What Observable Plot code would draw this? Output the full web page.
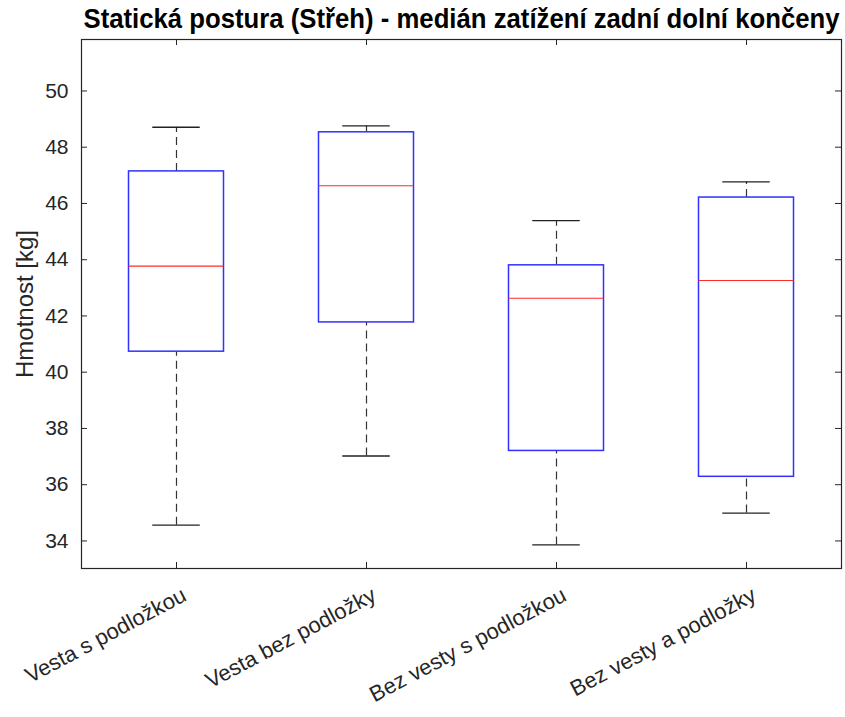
<!DOCTYPE html>
<html>
<head>
<meta charset="utf-8">
<script src="https://cdn.jsdelivr.net/npm/d3@7"></script>
<script src="https://cdn.jsdelivr.net/npm/@observablehq/plot@0.6"></script>
<style>
  html, body { margin: 0; padding: 0; background: #fff; }
  #chart svg { display: block; }
</style>
</head>
<body>
<div id="chart"></div>
<script>
const titleText = "Statická postura (Střeh) - medián zatížení zadní dolní končeny";
const yLabel = "Hmotnost [kg]";
const categories = ["Vesta s podložkou", "Vesta bez podložky", "Bez vesty s podložkou", "Bez vesty a podložky"];
const whiskerLow  = [34.56, 37.02, 33.86, 34.99];
const q1          = [40.73, 41.77, 37.20, 36.28];
const medians     = [43.77, 46.63, 42.63, 43.26];
const q3          = [47.14, 48.53, 43.80, 46.21];
const whiskerHigh = [48.71, 48.76, 45.39, 46.77];
const yTicks = [34, 36, 38, 40, 42, 44, 46, 48, 50];

const boxes = categories.map((c, i) => ({
  name: c, pos: i + 1,
  lo: whiskerLow[i], q1: q1[i], med: medians[i], q3: q3[i], hi: whiskerHigh[i]
}));

const W = 845, H = 717;
const mL = 81, mR = 4, mT = 39, mB = 149;
const plotW = W - mL - mR, plotH = H - mT - mB;
const font = "'Liberation Sans', Arial, Helvetica, sans-serif";
const axisColor = "#262626";

const chart = Plot.plot({
  width: W, height: H,
  marginLeft: mL, marginRight: mR, marginTop: mT, marginBottom: mB,
  style: { fontFamily: font, background: "#fff", color: axisColor },
  x: { type: "linear", domain: [0.5, 4.5], axis: null },
  y: { domain: [33.02, 51.83], axis: null },
  marks: [
    // whiskers (dashed)
    Plot.ruleX(boxes, { x: "pos", y1: "q3", y2: "hi", stroke: "#333", strokeWidth: 1.2, strokeDasharray: "8,5" }),
    Plot.ruleX(boxes, { x: "pos", y1: "lo", y2: "q1", stroke: "#333", strokeWidth: 1.2, strokeDasharray: "8,5" }),
    // caps
    Plot.ruleY(boxes, { y: "hi", x1: d => d.pos - 0.125, x2: d => d.pos + 0.125, stroke: "#222", strokeWidth: 1.3 }),
    Plot.ruleY(boxes, { y: "lo", x1: d => d.pos - 0.125, x2: d => d.pos + 0.125, stroke: "#222", strokeWidth: 1.3 }),
    // boxes
    Plot.rect(boxes, { x1: d => d.pos - 0.25, x2: d => d.pos + 0.25, y1: "q1", y2: "q3", fill: "none", stroke: "#3030ff", strokeWidth: 1.5 }),
    // medians
    Plot.ruleY(boxes, { y: "med", x1: d => d.pos - 0.25, x2: d => d.pos + 0.25, stroke: "#ff2a2a", strokeWidth: 1.2 }),
    // frame
    Plot.frame({ stroke: axisColor, strokeWidth: 1.2 }),
    // inward ticks: left and right
    Plot.tickY(yTicks, { y: d => d, insetRight: plotW - 6, stroke: axisColor }),
    Plot.tickY(yTicks, { y: d => d, insetLeft: plotW - 6, stroke: axisColor }),
    // inward ticks: bottom and top
    Plot.tickX(boxes, { x: "pos", insetTop: plotH - 6, stroke: axisColor }),
    Plot.tickX(boxes, { x: "pos", insetBottom: plotH - 6, stroke: axisColor }),
    // y tick labels
    Plot.axisY(yTicks, { anchor: "left", tickSize: 0, tickPadding: 13, fontSize: 21, fill: axisColor, label: null }),
    // y label
    Plot.text([yLabel], { frameAnchor: "left", dx: -56, rotate: -90, fontSize: 24, fill: axisColor, textAnchor: "middle" }),
    // x labels
    Plot.text(boxes, { x: "pos", text: "name", frameAnchor: "bottom", dx: 8, dy: 25, rotate: -28, textAnchor: "end", lineAnchor: "middle", fontSize: 22, fill: axisColor }),
    // title
    Plot.text([titleText], { frameAnchor: "top", dy: -20, fontSize: 27, fontWeight: "bold", fill: "#000", textAnchor: "middle", lineAnchor: "middle", className: "ttl" })
  ]
});

document.getElementById("chart").appendChild(chart);
d3.select(chart).selectAll("g.ttl text")
  .attr("textLength", 756)
  .attr("lengthAdjust", "spacingAndGlyphs");
</script>
</body>
</html>
